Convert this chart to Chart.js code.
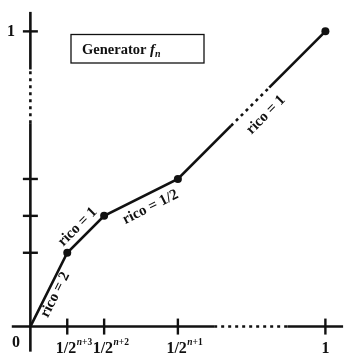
<!DOCTYPE html>
<html>
<head>
<meta charset="utf-8">
<script src="https://cdn.jsdelivr.net/npm/chart.js@4/dist/chart.umd.min.js"></script>
<style>
  html, body { margin: 0; padding: 0; background: #fff; }
  #wrap { width: 346px; height: 355px; }
</style>
</head>
<body>
<div id="wrap"><canvas id="chart" width="346" height="355"></canvas></div>
<script>
// --- DATA ---
const xValues = [0, 0.125, 0.25, 0.5, 1];
const yValues = [0, 0.25, 0.375, 0.5, 1];
const xTicks = [0.125, 0.25, 0.5, 1];
const xTickBase = ['1/2', '1/2', '1/2', '1'];
const xTickExp = ['n+3', 'n+2', 'n+1', ''];
const yTicks = [0.25, 0.375, 0.5, 1];
const yTickLabels = ['', '', '', '1'];
const slopeLabels = ['rico = 2', 'rico = 1', 'rico = 1/2', 'rico = 1'];
const titleText = 'Generator';

const SERIF = '"Liberation Serif", "DejaVu Serif", serif';

// where each slope label sits: fraction along segment + perpendicular offset (px)
const labelPlace = [
    { t: 0.48, off: 8 },
    { t: 0.49, off: -11 },
    { t: 0.55, off: 13 },
    { t: 0.515, off: 17 }
];

// line from a to b (pixels) with a dotted stretch between fractions g1..g2
function gappedLine(ctx, ax, ay, bx, by, g1, g2) {
    const lerp = (t) => [ax + (bx - ax) * t, ay + (by - ay) * t];
    const p1 = lerp(g1), p2 = lerp(g2);
    ctx.setLineDash([]);
    ctx.beginPath(); ctx.moveTo(ax, ay); ctx.lineTo(p1[0], p1[1]); ctx.stroke();
    ctx.beginPath(); ctx.moveTo(p2[0], p2[1]); ctx.lineTo(bx, by); ctx.stroke();
    ctx.setLineDash([3, 4]);
    ctx.lineCap = 'butt';
    ctx.beginPath(); ctx.moveTo(p1[0], p1[1]); ctx.lineTo(p2[0], p2[1]); ctx.stroke();
    ctx.setLineDash([]);
}

const sketchPlugin = {
    id: 'sketch',
    beforeDatasetsDraw(chart) {
        const ctx = chart.ctx;
        const xs = chart.scales.x, ys = chart.scales.y;
        const x0 = xs.getPixelForValue(0), y0 = ys.getPixelForValue(0);
        ctx.save();
        ctx.strokeStyle = '#111';
        ctx.lineWidth = 2.6;

        // axes
        gappedLine(ctx, xs.getPixelForValue(-0.063), y0, xs.getPixelForValue(1.06), y0,
            (0.623 + 0.063) / 1.123, (0.871 + 0.063) / 1.123);
        gappedLine(ctx, x0, ys.getPixelForValue(-0.085), x0, ys.getPixelForValue(1.066),
            (0.689 + 0.085) / 1.151, (0.871 + 0.085) / 1.151);

        // tick marks
        ctx.lineWidth = 2.4;
        xTicks.forEach(v => {
            const px = xs.getPixelForValue(v);
            ctx.beginPath(); ctx.moveTo(px, y0 - 8); ctx.lineTo(px, y0 + 8); ctx.stroke();
        });
        yTicks.forEach(v => {
            const py = ys.getPixelForValue(v);
            ctx.beginPath(); ctx.moveTo(x0 - 7.5, py); ctx.lineTo(x0 + 7.5, py); ctx.stroke();
        });

        // tick labels
        ctx.fillStyle = '#111';
        ctx.textBaseline = 'alphabetic';
        xTicks.forEach((v, i) => {
            const px = xs.getPixelForValue(v);
            ctx.font = 'bold 16px ' + SERIF;
            if (xTickExp[i]) {
                ctx.textAlign = 'left';
                const left = px - 11.5;
                ctx.fillText(xTickBase[i], left, 353);
                let cx = left + ctx.measureText(xTickBase[i]).width + 0.5;
                ctx.font = 'italic bold 9.5px ' + SERIF;
                ctx.fillText(xTickExp[i][0], cx, 345);
                cx += ctx.measureText(xTickExp[i][0]).width;
                ctx.font = 'bold 9.5px ' + SERIF;
                ctx.fillText(xTickExp[i].slice(1), cx, 345);
            } else {
                ctx.textAlign = 'center';
                ctx.fillText(xTickBase[i], px, 353);
            }
        });
        ctx.font = 'bold 16px ' + SERIF;
        ctx.textAlign = 'center';
        yTicks.forEach((v, i) => {
            if (yTickLabels[i]) ctx.fillText(yTickLabels[i], 11, ys.getPixelForValue(v) + 5);
        });
        ctx.fillText('0', 16, 347);

        // title box
        ctx.lineWidth = 1.3;
        ctx.strokeRect(71, 34.5, 133, 28.5);
        ctx.textAlign = 'left';
        ctx.font = 'bold 14.5px ' + SERIF;
        ctx.fillText(titleText, 82, 54);
        let tx = 82 + ctx.measureText(titleText + ' ').width;
        ctx.font = 'italic bold 15px ' + SERIF;
        ctx.fillText('f', tx, 54);
        tx += ctx.measureText('f').width;
        ctx.font = 'italic bold 10px ' + SERIF;
        ctx.fillText('n', tx, 57);
        ctx.restore();
    },
    afterDatasetsDraw(chart) {
        const ctx = chart.ctx;
        const pts = chart.getDatasetMeta(0).data;
        ctx.save();

        // dotted stretch on the last segment
        const a = pts[3], b = pts[4];
        const g1 = 0.36, g2 = 0.62;
        const p1 = [a.x + (b.x - a.x) * g1, a.y + (b.y - a.y) * g1];
        const p2 = [a.x + (b.x - a.x) * g2, a.y + (b.y - a.y) * g2];
        ctx.strokeStyle = '#fff';
        ctx.lineWidth = 5;
        ctx.beginPath(); ctx.moveTo(p1[0], p1[1]); ctx.lineTo(p2[0], p2[1]); ctx.stroke();
        ctx.strokeStyle = '#111';
        ctx.lineWidth = 2.6;
        ctx.setLineDash([3, 4]);
        ctx.beginPath(); ctx.moveTo(p1[0], p1[1]); ctx.lineTo(p2[0], p2[1]); ctx.stroke();
        ctx.setLineDash([]);

        // slope labels along the segments
        ctx.fillStyle = '#111';
        ctx.font = 'bold 15px ' + SERIF;
        ctx.textAlign = 'center';
        ctx.textBaseline = 'middle';
        slopeLabels.forEach((txt, i) => {
            const s = pts[i], e = pts[i + 1];
            const dx = e.x - s.x, dy = e.y - s.y;
            const len = Math.hypot(dx, dy);
            const ux = dx / len, uy = dy / len;
            const pl = labelPlace[i];
            const cx = s.x + dx * pl.t - uy * pl.off;
            const cy = s.y + dy * pl.t + ux * pl.off;
            ctx.save();
            ctx.translate(cx, cy);
            ctx.rotate(Math.atan2(dy, dx));
            ctx.fillText(txt, 0, 0);
            ctx.restore();
        });
        ctx.restore();
    }
};

const points = xValues.map((x, i) => ({ x: x, y: yValues[i] }));

new Chart(document.getElementById('chart').getContext('2d'), {
    type: 'scatter',
    data: {
        datasets: [{
            data: points,
            showLine: true,
            borderColor: '#111',
            borderWidth: 2.6,
            pointRadius: [0, 4, 4, 4, 4],
            pointBackgroundColor: '#111',
            pointBorderWidth: 0,
            clip: false
        }]
    },
    options: {
        responsive: false,
        animation: false,
        layout: { padding: 0 },
        plugins: { legend: { display: false }, tooltip: { enabled: false } },
        scales: {
            x: { type: 'linear', display: false, min: -27 / 302, max: 1 + 17 / 302 },
            y: { type: 'linear', display: false, min: -25 / 302, max: 1 + 28 / 302 }
        }
    },
    plugins: [sketchPlugin]
});
</script>
</body>
</html>
